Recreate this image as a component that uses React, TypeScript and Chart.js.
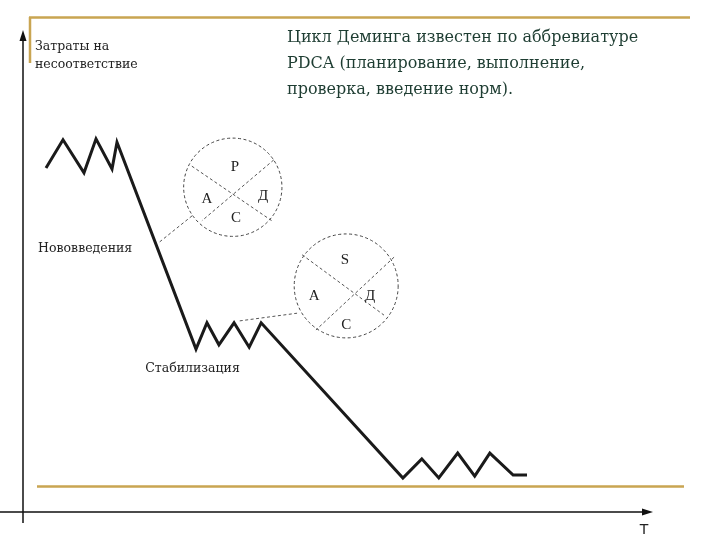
import React, { useEffect, useRef } from "react";
import { Chart, registerables } from "chart.js";

Chart.register(...registerables);

// Time axis (abstract units 0..100) and cost of non-conformity (0..100)
const timeValues = [3.65, 6.35, 9.68, 11.59, 14.13, 14.92, 27.46, 29.2, 31.1, 33.5, 35.9, 37.8, 60.3, 63.3, 66.0, 69.0, 71.7, 74.1, 77.8, 80.0];
const costValues = [71.8, 77.7, 70.8, 77.9, 71.6, 77.2, 34.0, 39.5, 34.9, 39.5, 34.4, 39.5, 7.1, 11.1, 7.1, 12.3, 7.5, 12.3, 7.7, 7.7];

const yAxisTitle = ["Затраты на", "несоответствие"];
const xAxisTitle = "T";
const phaseLabels = ["Нововведения", "Стабилизация"];
const slideText = [
  "Цикл Деминга известен по аббревиатуре",
  "PDCA (планирование, выполнение,",
  "проверка, введение норм).",
];
const cycle1Letters = ["P", "A", "Д", "C"];
const cycle2Letters = ["S", "A", "Д", "C"];

// annotation geometry (data units)
const phaseLabelPos = [
  [2.4, 54.9],
  [19.4, 29.9],
];
const circles = [
  { cx: 33.3, cy: 67.8, r: 7.8 },
  { cx: 51.3, cy: 47.2, r: 8.25 },
];
const circleLetterPos = [
  [[33.65, 72.0], [29.2, 65.3], [38.1, 66.0], [33.8, 61.4]],
  [[51.1, 52.6], [46.2, 45.1], [55.1, 45.1], [51.3, 39.0]],
];
const dashedSegments = [
  [[26.8, 72.2], [39.5, 60.8]],
  [[39.8, 73.5], [28.4, 60.8]],
  [[44.3, 53.7], [57.3, 41.1]],
  [[58.9, 53.2], [46.5, 38.0]],
  [[21.7, 56.4], [27.0, 62.0]],
  [[34.4, 39.9], [43.5, 41.5]],
];

const GOLD = "#c9a552";

const decorPlugin = {
  id: "decor",
  beforeDraw(chart: any) {
    const ctx = chart.ctx as CanvasRenderingContext2D;
    ctx.save();
    ctx.fillStyle = "#ffffff";
    ctx.fillRect(0, 0, chart.width, chart.height);
    // slide gold rules
    ctx.strokeStyle = GOLD;
    ctx.lineWidth = 2.5;
    ctx.beginPath();
    ctx.moveTo(29, 17.5);
    ctx.lineTo(690, 17.5);
    ctx.moveTo(30, 17);
    ctx.lineTo(30, 63);
    ctx.moveTo(37, 486.5);
    ctx.lineTo(684, 486.5);
    ctx.stroke();
    ctx.restore();
  },
  afterDatasetsDraw(chart: any) {
    const ctx = chart.ctx as CanvasRenderingContext2D;
    const xs = chart.scales.x;
    const ys = chart.scales.y;
    const area = chart.chartArea;
    const px = (v: number) => xs.getPixelForValue(v);
    const py = (v: number) => ys.getPixelForValue(v);
    ctx.save();

    // axes
    ctx.strokeStyle = "#111";
    ctx.fillStyle = "#111";
    ctx.lineWidth = 1.5;
    ctx.beginPath();
    ctx.moveTo(area.left, area.top + 4);
    ctx.lineTo(area.left, area.bottom + 11);
    ctx.moveTo(0, area.bottom);
    ctx.lineTo(area.right - 4, area.bottom);
    ctx.stroke();
    // arrow heads
    ctx.beginPath();
    ctx.moveTo(area.left, area.top - 3);
    ctx.lineTo(area.left - 3.5, area.top + 8);
    ctx.lineTo(area.left + 3.5, area.top + 8);
    ctx.closePath();
    ctx.fill();
    ctx.beginPath();
    ctx.moveTo(area.right, area.bottom);
    ctx.lineTo(area.right - 11, area.bottom - 3.5);
    ctx.lineTo(area.right - 11, area.bottom + 3.5);
    ctx.closePath();
    ctx.fill();

    // circles
    ctx.strokeStyle = "#444";
    ctx.lineWidth = 1;
    ctx.setLineDash([3, 2.5]);
    circles.forEach((c) => {
      const rpx = Math.abs(px(c.cx + c.r) - px(c.cx));
      ctx.beginPath();
      ctx.arc(px(c.cx), py(c.cy), rpx, 0, Math.PI * 2);
      ctx.stroke();
    });
    ctx.setLineDash([]);

    // letters
    ctx.fillStyle = "#222";
    ctx.font = "15px 'Liberation Serif', serif";
    ctx.textAlign = "center";
    ctx.textBaseline = "middle";
    [cycle1Letters, cycle2Letters].forEach((letters, ci) => {
      letters.forEach((l, i) => {
        const [lx, ly] = circleLetterPos[ci][i];
        ctx.fillText(l, px(lx), py(ly));
      });
    });

    // phase labels
    ctx.textAlign = "left";
    ctx.font = "12.5px 'DejaVu Serif', serif";
    ctx.fillStyle = "#222";
    phaseLabels.forEach((t, i) => {
      ctx.fillText(t, px(phaseLabelPos[i][0]), py(phaseLabelPos[i][1]));
    });

    // y axis title
    ctx.font = "12.5px 'DejaVu Serif', serif";
    ctx.fillText(yAxisTitle[0], 35, 47);
    ctx.fillText(yAxisTitle[1], 35, 65);

    // x axis title
    ctx.font = "14px 'DejaVu Sans', sans-serif";
    ctx.textAlign = "center";
    ctx.fillText(xAxisTitle, area.right - 9, 530);

    // slide text
    ctx.textAlign = "left";
    ctx.fillStyle = "#1e3d32";
    ctx.font = "16px 'DejaVu Serif', serif";
    slideText.forEach((t, i) => {
      ctx.fillText(t, 287, 38 + i * 26);
    });

    ctx.restore();
  },
};

export default function App() {
  const ref = useRef<HTMLCanvasElement | null>(null);

  useEffect(() => {
    if (!ref.current) return;
    const mainLine = {
      label: "Затраты",
      data: timeValues.map((x, i) => ({ x, y: costValues[i] })),
      showLine: true,
      borderColor: "#1a1a1a",
      borderWidth: 3,
      pointRadius: 0,
      tension: 0,
      borderJoinStyle: "miter" as const,
      fill: false,
    };
    const dashed = dashedSegments.map((seg, i) => ({
      label: "d" + i,
      data: seg.map(([x, y]) => ({ x, y })),
      showLine: true,
      borderColor: "#555",
      borderWidth: 1,
      borderDash: [3, 2.5],
      pointRadius: 0,
      fill: false,
    }));
    const chart = new Chart(ref.current, {
      type: "scatter",
      data: { datasets: [mainLine, ...dashed] as any },
      options: {
        animation: false,
        responsive: false,
        devicePixelRatio: 1,
        layout: { padding: { left: 23, right: 67, top: 33, bottom: 28 } },
        scales: {
          x: { type: "linear", min: 0, max: 100, display: false },
          y: { type: "linear", min: 0, max: 100, display: false },
        },
        plugins: {
          legend: { display: false },
          tooltip: { enabled: false },
        },
      },
      plugins: [decorPlugin],
    });
    return () => chart.destroy();
  }, []);

  return (
    <div style={{ position: "absolute", left: 0, top: 0, width: 720, height: 540 }}>
      <canvas ref={ref} width={720} height={540} style={{ display: "block" }} />
    </div>
  );
}
